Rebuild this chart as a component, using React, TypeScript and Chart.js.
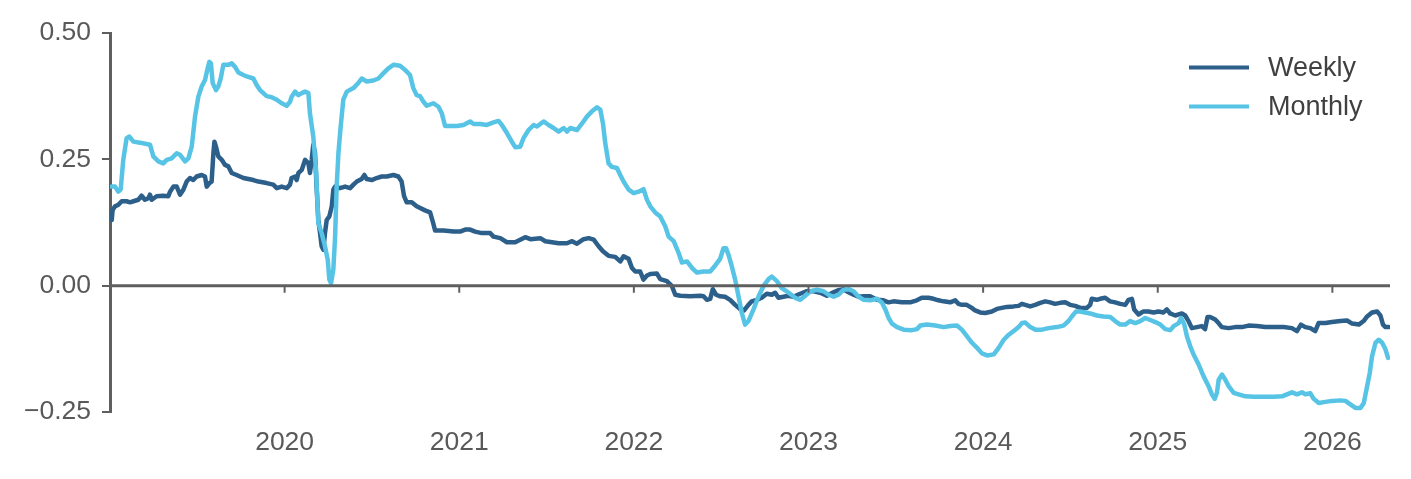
import React, { useRef, useEffect } from 'react';
import { Chart, registerables } from 'chart.js';

Chart.register(...registerables);

// dates as decimal years
const weeklyDates = [
  2019.010, 2019.015, 2019.029, 2019.048, 2019.067, 2019.095, 2019.115, 2019.134, 2019.162, 2019.181,
  2019.200, 2019.220, 2019.229, 2019.239, 2019.267, 2019.305, 2019.334, 2019.344, 2019.363, 2019.382,
  2019.401, 2019.420, 2019.439, 2019.458, 2019.477, 2019.496, 2019.525, 2019.544, 2019.554, 2019.569,
  2019.582, 2019.592, 2019.598, 2019.607, 2019.620, 2019.640, 2019.659, 2019.678, 2019.697, 2019.725,
  2019.764, 2019.821, 2019.850, 2019.897, 2019.935, 2019.955, 2019.983, 2020.012, 2020.031, 2020.040,
  2020.060, 2020.069, 2020.079, 2020.098, 2020.117, 2020.136, 2020.145, 2020.155, 2020.164, 2020.174,
  2020.183, 2020.193, 2020.203, 2020.212, 2020.222, 2020.231, 2020.241, 2020.256, 2020.270, 2020.279,
  2020.289, 2020.317, 2020.346, 2020.375, 2020.394, 2020.413, 2020.441, 2020.457, 2020.470, 2020.499,
  2020.527, 2020.556, 2020.585, 2020.623, 2020.651, 2020.670, 2020.684, 2020.699, 2020.728, 2020.756,
  2020.804, 2020.833, 2020.848, 2020.862, 2020.910, 2020.967, 2021.005, 2021.034, 2021.062, 2021.091,
  2021.129, 2021.177, 2021.196, 2021.235, 2021.273, 2021.320, 2021.349, 2021.378, 2021.407, 2021.464,
  2021.493, 2021.531, 2021.569, 2021.617, 2021.646, 2021.674, 2021.712, 2021.741, 2021.770, 2021.798,
  2021.823, 2021.855, 2021.893, 2021.922, 2021.941, 2021.970, 2021.989, 2022.008, 2022.036, 2022.055,
  2022.075, 2022.094, 2022.132, 2022.151, 2022.189, 2022.218, 2022.237, 2022.266, 2022.323, 2022.380,
  2022.399, 2022.418, 2022.437, 2022.452, 2022.471, 2022.494, 2022.522, 2022.551, 2022.580, 2022.608,
  2022.631, 2022.656, 2022.675, 2022.704, 2022.732, 2022.761, 2022.790, 2022.809, 2022.828, 2022.857,
  2022.885, 2022.914, 2022.952, 2022.991, 2023.029, 2023.067, 2023.105, 2023.143, 2023.172, 2023.200,
  2023.229, 2023.258, 2023.286, 2023.315, 2023.353, 2023.391, 2023.429, 2023.458, 2023.487, 2023.534,
  2023.582, 2023.620, 2023.649, 2023.687, 2023.716, 2023.744, 2023.773, 2023.811, 2023.840, 2023.859,
  2023.878, 2023.906, 2023.935, 2023.954, 2023.983, 2024.012, 2024.050, 2024.079, 2024.107, 2024.136,
  2024.174, 2024.203, 2024.222, 2024.241, 2024.270, 2024.298, 2024.327, 2024.356, 2024.384, 2024.412,
  2024.441, 2024.470, 2024.498, 2024.527, 2024.556, 2024.594, 2024.613, 2024.622, 2024.651, 2024.670,
  2024.699, 2024.727, 2024.756, 2024.785, 2024.814, 2024.833, 2024.852, 2024.865, 2024.890, 2024.918,
  2024.947, 2024.976, 2025.004, 2025.033, 2025.052, 2025.071, 2025.100, 2025.138, 2025.157, 2025.176,
  2025.195, 2025.224, 2025.252, 2025.271, 2025.285, 2025.300, 2025.329, 2025.348, 2025.367, 2025.405,
  2025.444, 2025.482, 2025.520, 2025.568, 2025.616, 2025.664, 2025.721, 2025.768, 2025.797, 2025.820,
  2025.845, 2025.874, 2025.902, 2025.921, 2025.960, 2025.998, 2026.046, 2026.084, 2026.113, 2026.151,
  2026.179, 2026.199, 2026.227, 2026.256, 2026.275, 2026.290, 2026.304, 2026.323,
];

const weeklyValues = [
  0.130, 0.150, 0.157, 0.160, 0.167, 0.167, 0.165, 0.167, 0.170, 0.178,
  0.170, 0.173, 0.180, 0.170, 0.177, 0.178, 0.177, 0.186, 0.196, 0.196,
  0.180, 0.190, 0.206, 0.213, 0.209, 0.216, 0.219, 0.216, 0.196, 0.203,
  0.206, 0.262, 0.285, 0.275, 0.256, 0.249, 0.239, 0.236, 0.223, 0.219,
  0.213, 0.209, 0.206, 0.203, 0.200, 0.193, 0.196, 0.193, 0.200, 0.213,
  0.216, 0.209, 0.223, 0.229, 0.249, 0.242, 0.223, 0.249, 0.279, 0.262,
  0.196, 0.130, 0.104, 0.078, 0.071, 0.104, 0.130, 0.137, 0.157, 0.190,
  0.196, 0.193, 0.196, 0.193, 0.200, 0.206, 0.211, 0.219, 0.211, 0.209,
  0.213, 0.216, 0.216, 0.219, 0.216, 0.206, 0.177, 0.165, 0.165, 0.157,
  0.149, 0.145, 0.127, 0.109, 0.109, 0.107, 0.107, 0.111, 0.111, 0.107,
  0.104, 0.104, 0.097, 0.094, 0.086, 0.086, 0.091, 0.096, 0.092, 0.094,
  0.088, 0.086, 0.084, 0.084, 0.088, 0.083, 0.092, 0.094, 0.091, 0.078,
  0.068, 0.059, 0.057, 0.048, 0.058, 0.053, 0.035, 0.028, 0.028, 0.012,
  0.020, 0.023, 0.024, 0.013, 0.009, -0.001, -0.018, -0.020, -0.021, -0.020,
  -0.021, -0.028, -0.026, -0.007, -0.018, -0.021, -0.022, -0.028, -0.038, -0.046,
  -0.049, -0.038, -0.031, -0.028, -0.024, -0.016, -0.018, -0.014, -0.024, -0.022,
  -0.020, -0.022, -0.016, -0.011, -0.011, -0.014, -0.020, -0.013, -0.009, -0.007,
  -0.013, -0.018, -0.022, -0.021, -0.021, -0.028, -0.029, -0.033, -0.031, -0.033,
  -0.033, -0.029, -0.024, -0.024, -0.026, -0.029, -0.031, -0.033, -0.029, -0.036,
  -0.038, -0.038, -0.044, -0.049, -0.053, -0.054, -0.051, -0.046, -0.044, -0.042,
  -0.041, -0.040, -0.036, -0.038, -0.041, -0.038, -0.034, -0.031, -0.033, -0.036,
  -0.034, -0.033, -0.038, -0.040, -0.044, -0.044, -0.038, -0.026, -0.028, -0.026,
  -0.024, -0.031, -0.033, -0.036, -0.038, -0.028, -0.026, -0.047, -0.057, -0.051,
  -0.051, -0.053, -0.051, -0.053, -0.047, -0.055, -0.059, -0.055, -0.059, -0.070,
  -0.084, -0.082, -0.080, -0.086, -0.062, -0.062, -0.067, -0.074, -0.082, -0.084,
  -0.082, -0.082, -0.079, -0.080, -0.082, -0.082, -0.082, -0.084, -0.090, -0.077,
  -0.082, -0.084, -0.090, -0.074, -0.074, -0.072, -0.070, -0.069, -0.075, -0.077,
  -0.070, -0.061, -0.053, -0.051, -0.059, -0.077, -0.082, -0.082,
];

const monthlyDates = [
  2019.010, 2019.029, 2019.048, 2019.061, 2019.076, 2019.095, 2019.111, 2019.134, 2019.172, 2019.229,
  2019.248, 2019.277, 2019.305, 2019.325, 2019.353, 2019.382, 2019.401, 2019.430, 2019.449, 2019.468,
  2019.487, 2019.506, 2019.525, 2019.544, 2019.557, 2019.569, 2019.578, 2019.588, 2019.607, 2019.620,
  2019.634, 2019.649, 2019.678, 2019.697, 2019.716, 2019.735, 2019.764, 2019.783, 2019.821, 2019.840,
  2019.859, 2019.897, 2019.926, 2019.955, 2019.983, 2020.012, 2020.031, 2020.040, 2020.060, 2020.079,
  2020.098, 2020.117, 2020.136, 2020.145, 2020.164, 2020.180, 2020.193, 2020.212, 2020.231, 2020.247,
  2020.256, 2020.266, 2020.279, 2020.289, 2020.298, 2020.308, 2020.321, 2020.336, 2020.356, 2020.394,
  2020.422, 2020.441, 2020.470, 2020.508, 2020.537, 2020.565, 2020.594, 2020.623, 2020.661, 2020.690,
  2020.718, 2020.737, 2020.756, 2020.775, 2020.795, 2020.814, 2020.852, 2020.881, 2020.900, 2020.919,
  2020.948, 2020.986, 2021.024, 2021.062, 2021.082, 2021.120, 2021.158, 2021.196, 2021.225, 2021.244,
  2021.273, 2021.301, 2021.320, 2021.349, 2021.368, 2021.397, 2021.426, 2021.445, 2021.483, 2021.512,
  2021.540, 2021.569, 2021.598, 2021.617, 2021.636, 2021.674, 2021.703, 2021.732, 2021.760, 2021.789,
  2021.808, 2021.823, 2021.836, 2021.855, 2021.874, 2021.903, 2021.922, 2021.941, 2021.970, 2021.999,
  2022.027, 2022.055, 2022.075, 2022.094, 2022.122, 2022.151, 2022.180, 2022.199, 2022.228, 2022.256,
  2022.275, 2022.304, 2022.333, 2022.361, 2022.399, 2022.437, 2022.466, 2022.494, 2022.513, 2022.528,
  2022.542, 2022.561, 2022.580, 2022.599, 2022.618, 2022.637, 2022.656, 2022.685, 2022.714, 2022.742,
  2022.771, 2022.790, 2022.819, 2022.847, 2022.886, 2022.924, 2022.953, 2022.981, 2023.010, 2023.048,
  2023.086, 2023.115, 2023.144, 2023.172, 2023.201, 2023.230, 2023.258, 2023.287, 2023.316, 2023.354,
  2023.392, 2023.421, 2023.440, 2023.459, 2023.478, 2023.507, 2023.545, 2023.592, 2023.621, 2023.640,
  2023.678, 2023.726, 2023.774, 2023.812, 2023.850, 2023.878, 2023.907, 2023.936, 2023.965, 2023.993,
  2024.022, 2024.061, 2024.089, 2024.118, 2024.147, 2024.174, 2024.203, 2024.223, 2024.242, 2024.270,
  2024.299, 2024.337, 2024.375, 2024.422, 2024.460, 2024.489, 2024.508, 2024.532, 2024.556, 2024.584,
  2024.613, 2024.651, 2024.689, 2024.728, 2024.756, 2024.785, 2024.814, 2024.842, 2024.871, 2024.900,
  2024.928, 2024.957, 2024.986, 2025.015, 2025.043, 2025.072, 2025.091, 2025.120, 2025.134, 2025.152,
  2025.167, 2025.186, 2025.205, 2025.234, 2025.262, 2025.291, 2025.310, 2025.326, 2025.339, 2025.349,
  2025.368, 2025.387, 2025.406, 2025.435, 2025.463, 2025.502, 2025.549, 2025.607, 2025.664, 2025.712,
  2025.740, 2025.769, 2025.798, 2025.826, 2025.845, 2025.874, 2025.893, 2025.922, 2025.960, 2025.998,
  2026.046, 2026.075, 2026.103, 2026.132, 2026.161, 2026.180, 2026.199, 2026.214, 2026.227, 2026.247,
  2026.266, 2026.285, 2026.304, 2026.319,
];

const monthlyValues = [
  0.196, 0.196, 0.186, 0.190, 0.249, 0.292, 0.295, 0.285, 0.283, 0.279,
  0.256, 0.246, 0.242, 0.249, 0.252, 0.262, 0.259, 0.246, 0.252, 0.275,
  0.335, 0.374, 0.394, 0.407, 0.427, 0.443, 0.440, 0.401, 0.387, 0.394,
  0.410, 0.437, 0.437, 0.440, 0.433, 0.422, 0.417, 0.414, 0.410, 0.397,
  0.387, 0.375, 0.373, 0.368, 0.361, 0.356, 0.364, 0.374, 0.384, 0.377,
  0.381, 0.384, 0.381, 0.341, 0.295, 0.229, 0.124, 0.104, 0.078, 0.051,
  0.012, 0.005, 0.032, 0.097, 0.196, 0.262, 0.315, 0.368, 0.384, 0.391,
  0.401, 0.410, 0.404, 0.406, 0.410, 0.420, 0.430, 0.437, 0.435, 0.427,
  0.417, 0.391, 0.377, 0.375, 0.364, 0.356, 0.361, 0.354, 0.341, 0.316,
  0.316, 0.316, 0.318, 0.325, 0.320, 0.320, 0.318, 0.323, 0.326, 0.318,
  0.302, 0.285, 0.274, 0.275, 0.292, 0.308, 0.318, 0.315, 0.325, 0.318,
  0.312, 0.305, 0.312, 0.305, 0.312, 0.308, 0.321, 0.335, 0.345, 0.353,
  0.348, 0.321, 0.282, 0.242, 0.235, 0.233, 0.219, 0.206, 0.190, 0.183,
  0.186, 0.191, 0.170, 0.157, 0.145, 0.137, 0.117, 0.097, 0.088, 0.065,
  0.046, 0.048, 0.035, 0.026, 0.028, 0.028, 0.040, 0.053, 0.074, 0.074,
  0.061, 0.038, 0.012, -0.021, -0.054, -0.077, -0.070, -0.047, -0.021, -0.001,
  0.013, 0.018, 0.009, -0.005, -0.014, -0.024, -0.028, -0.020, -0.011, -0.008,
  -0.011, -0.018, -0.022, -0.018, -0.008, -0.007, -0.011, -0.022, -0.028, -0.029,
  -0.026, -0.034, -0.047, -0.064, -0.075, -0.082, -0.087, -0.088, -0.086, -0.079,
  -0.077, -0.079, -0.082, -0.080, -0.079, -0.087, -0.100, -0.113, -0.123, -0.134,
  -0.138, -0.136, -0.123, -0.107, -0.097, -0.090, -0.082, -0.074, -0.073, -0.082,
  -0.087, -0.087, -0.084, -0.082, -0.079, -0.070, -0.061, -0.051, -0.051, -0.053,
  -0.055, -0.059, -0.061, -0.062, -0.070, -0.077, -0.077, -0.070, -0.074, -0.070,
  -0.064, -0.068, -0.072, -0.077, -0.086, -0.088, -0.080, -0.074, -0.064, -0.077,
  -0.100, -0.120, -0.136, -0.156, -0.179, -0.199, -0.215, -0.224, -0.212, -0.186,
  -0.176, -0.186, -0.199, -0.212, -0.215, -0.219, -0.220, -0.220, -0.220, -0.219,
  -0.215, -0.211, -0.215, -0.211, -0.215, -0.213, -0.224, -0.232, -0.230, -0.228,
  -0.227, -0.228, -0.235, -0.242, -0.242, -0.232, -0.199, -0.173, -0.140, -0.113,
  -0.107, -0.113, -0.126, -0.143,
];

const yearTicks = [2020, 2021, 2022, 2023, 2024, 2025, 2026];

const WEEKLY_COLOR = '#2d5f8b';
const MONTHLY_COLOR = '#57c4e5';
const AXIS_COLOR = '#5f5f5f';
const FONT = '"Liberation Sans", Arial, sans-serif';

const toPoints = (xs: number[], ys: number[]) => xs.map((x, i) => ({ x, y: ys[i] }));

// zero line with year tick marks hanging below it
const zeroAxis = {
  id: 'zeroAxis',
  afterDatasetsDraw(chart: any) {
    const { ctx, chartArea, scales } = chart;
    const y0 = scales.y.getPixelForValue(0);
    ctx.save();
    ctx.strokeStyle = AXIS_COLOR;
    ctx.lineWidth = 3;
    ctx.beginPath();
    ctx.moveTo(chartArea.left, y0);
    ctx.lineTo(chartArea.right, y0);
    ctx.stroke();
    ctx.lineWidth = 2;
    ctx.beginPath();
    yearTicks.forEach((yr) => {
      const px = scales.x.getPixelForValue(yr);
      ctx.moveTo(px, y0);
      ctx.lineTo(px, y0 + 7);
    });
    ctx.stroke();
    ctx.restore();
  },
};

const sideLegend = {
  id: 'sideLegend',
  afterDraw(chart: any) {
    const { ctx, chartArea } = chart;
    ctx.save();
    ctx.font = `27px ${FONT}`;
    ctx.textBaseline = 'middle';
    chart.data.datasets.forEach((ds: any, i: number) => {
      const yy = chartArea.top + 34.5 + i * 39;
      const x0 = chartArea.right - 201;
      ctx.strokeStyle = ds.borderColor;
      ctx.lineWidth = 4;
      ctx.beginPath();
      ctx.moveTo(x0, yy);
      ctx.lineTo(x0 + 60, yy);
      ctx.stroke();
      ctx.fillStyle = '#404040';
      ctx.fillText(ds.label, x0 + 79, yy + 1);
    });
    ctx.restore();
  },
};

const App: React.FC = () => {
  const chartRef = useRef<HTMLCanvasElement>(null);
  const chartInstance = useRef<Chart | null>(null);

  useEffect(() => {
    if (!chartRef.current) return;
    if (chartInstance.current) chartInstance.current.destroy();

    chartInstance.current = new Chart(chartRef.current, {
      type: 'line',
      data: {
        datasets: [
          {
            label: 'Weekly',
            data: toPoints(weeklyDates, weeklyValues),
            borderColor: WEEKLY_COLOR,
            borderWidth: 4.5,
            pointRadius: 0,
            order: 2,
          },
          {
            label: 'Monthly',
            data: toPoints(monthlyDates, monthlyValues),
            borderColor: MONTHLY_COLOR,
            borderWidth: 4.5,
            pointRadius: 0,
            order: 1,
          },
        ],
      },
      options: {
        animation: false,
        responsive: true,
        maintainAspectRatio: false,
        layout: { padding: { top: 33, right: 21, left: 0, bottom: 0 } },
        elements: { line: { tension: 0, borderJoinStyle: 'round', borderCapStyle: 'round' } },
        plugins: { legend: { display: false }, tooltip: { enabled: false } },
        scales: {
          x: {
            type: 'linear',
            min: 2019,
            max: 2026.33,
            border: { display: false },
            grid: { display: false, drawTicks: false },
            afterFit: (scale: any) => { scale.height = 67; },
            ticks: {
              stepSize: 1,
              includeBounds: false,
              autoSkip: false,
              maxRotation: 0,
              padding: 15,
              color: '#595959',
              font: { family: FONT, size: 26.5 },
              callback: (v: any) => (yearTicks.includes(Number(v)) ? String(v) : ''),
            },
          },
          y: {
            min: -0.25,
            max: 0.5,
            border: { display: true, color: AXIS_COLOR, width: 3 },
            grid: { drawOnChartArea: false, drawTicks: true, tickLength: 8, color: AXIS_COLOR, lineWidth: 2 },
            afterFit: (scale: any) => { scale.width = 110; },
            ticks: {
              stepSize: 0.25,
              padding: 11,
              color: '#595959',
              font: { family: FONT, size: 26.5 },
              callback: (v: any) => Number(v).toFixed(2).replace('-', '\u2212'),
            },
          },
        },
      },
      plugins: [zeroAxis, sideLegend],
    });

    return () => {
      if (chartInstance.current) {
        chartInstance.current.destroy();
        chartInstance.current = null;
      }
    };
  }, []);

  return (
    <div style={{ position: 'absolute', left: 0, top: 0, width: '1411px', height: '479px', background: '#fff' }}>
      <canvas ref={chartRef} />
    </div>
  );
};

export default App;
